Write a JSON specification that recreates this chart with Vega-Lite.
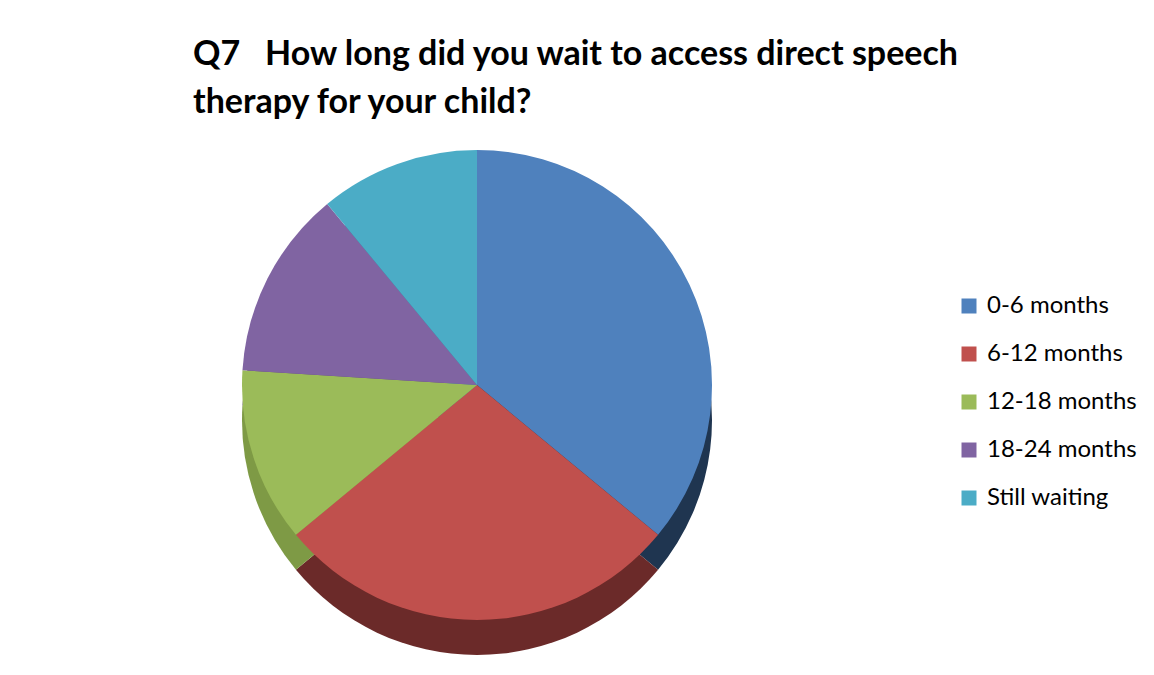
{
  "$schema": "https://vega.github.io/schema/vega-lite/v6.json",
  "width": 954,
  "height": 510,
  "autosize": {"type": "none"},
  "padding": {"top": 130, "left": 0, "right": 200, "bottom": 35},
  "background": "white",
  "title": {
    "text": ["Q7\u00a0\u00a0\u00a0How long did you wait to access direct speech", "therapy for your child?"],
    "anchor": "start",
    "frame": "group",
    "dx": 193,
    "offset": 10,
    "font": "Lato",
    "fontSize": 34,
    "fontWeight": "bold",
    "color": "#000000",
    "lineHeight": 48
  },
  "data": {
    "values": [
      {"category": "0-6 months", "value": 36, "ord": 1},
      {"category": "6-12 months", "value": 28, "ord": 2},
      {"category": "12-18 months", "value": 12, "ord": 3},
      {"category": "18-24 months", "value": 13, "ord": 4},
      {"category": "Still waiting", "value": 11, "ord": 5}
    ]
  },
  "layer": [
    {
      "mark": {"type": "arc", "radius": 235, "yOffset": 35},
      "encoding": {
        "theta": {"field": "value", "type": "quantitative", "stack": true},
        "order": {"field": "ord", "type": "quantitative"},
        "color": {
          "field": "category",
          "type": "nominal",
          "scale": {
            "domain": ["0-6 months", "6-12 months", "12-18 months", "18-24 months", "Still waiting"],
            "range": ["#1F3550", "#6B2A29", "#7E9A45", "#5E4A78", "#35839A"]
          },
          "legend": null
        }
      }
    },
    {
      "mark": {"type": "arc", "radius": 235},
      "encoding": {
        "theta": {"field": "value", "type": "quantitative", "stack": true},
        "order": {"field": "ord", "type": "quantitative"},
        "color": {
          "field": "category",
          "type": "nominal",
          "scale": {
            "domain": ["0-6 months", "6-12 months", "12-18 months", "18-24 months", "Still waiting"],
            "range": ["#4F81BD", "#C0504D", "#9BBB59", "#8064A2", "#4BACC6"]
          },
          "legend": {
            "title": null,
            "orient": "none",
            "legendX": 957,
            "legendY": 164,
            "symbolType": "square",
            "symbolSize": 225,
            "symbolStrokeWidth": 0,
            "labelFont": "Lato",
            "labelFontSize": 24,
            "labelColor": "#000000",
            "labelOffset": 6,
            "rowPadding": 24
          }
        }
      }
    }
  ],
  "resolve": {"scale": {"color": "independent"}},
  "config": {"view": {"stroke": null}}
}
